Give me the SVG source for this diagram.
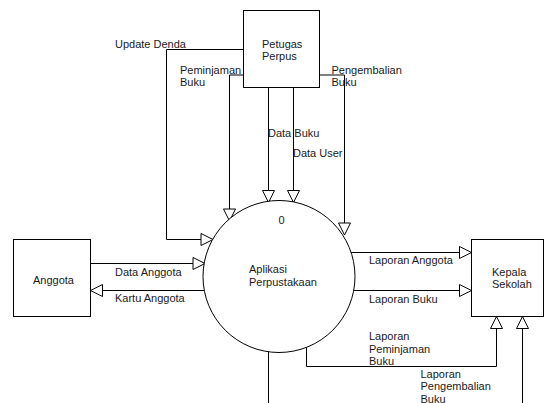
<svg xmlns="http://www.w3.org/2000/svg" width="552" height="403" viewBox="0 0 552 403">
  <style>
    .box { fill: #fff; stroke: #000; stroke-width: 1; }
    .flow { fill: none; stroke: #000; stroke-width: 1; marker-end: url(#open); }
    .line { fill: none; stroke: #000; stroke-width: 1; }
    text { font-family: "Liberation Sans", Arial, sans-serif; font-size: 11px; fill: #1a1a1a; }
  </style>
  <defs>
    <marker id="open" markerUnits="userSpaceOnUse" markerWidth="14" markerHeight="14" refX="12" refY="6" orient="auto" viewBox="-1 -1 14 14">
      <path d="M0,0 L12,6 L0,12 Z" fill="#fff" stroke="#000" stroke-width="1"/>
    </marker>
  </defs>
  <rect width="552" height="403" fill="#fff"/>

  <!-- data flows -->
  <g id="connectors">
    <path class="flow" d="M243.5,49.5 H166.5 V239.5 H213"/>
    <path class="flow" d="M243.5,75 H229.5 V221"/>
    <path class="flow" d="M268.5,87.5 V202.5"/>
    <path class="flow" d="M293.5,87.5 V202.5"/>
    <path class="flow" d="M319.5,75 H344.5 V235"/>
    <path class="flow" d="M90.5,263.5 H205"/>
    <path class="flow" d="M204.5,290.5 H90.5"/>
    <path class="flow" d="M351,252.5 H471.5"/>
    <path class="flow" d="M353.5,290.5 H471.5"/>
    <path class="flow" d="M306.5,347.5 V366.5 H496.5 V316.5"/>
    <path class="flow" d="M522.5,403 V316.5"/>
    <path class="line" d="M268.5,351.5 V403"/>
  </g>

  <g id="petugas">
    <rect class="box" x="243.5" y="10.5" width="76" height="77"/>
    <text x="262" y="47.5">Petugas</text>
    <text x="262" y="59.5">Perpus</text>
  </g>

  <g id="aplikasi">
    <circle class="box" cx="279" cy="276.5" r="76"/>
    <text x="278.5" y="224">0</text>
    <text x="249" y="273">Aplikasi</text>
    <text x="249" y="285.5">Perpustakaan</text>
  </g>

  <g id="anggota">
    <rect class="box" x="13.5" y="239.5" width="77" height="77"/>
    <text x="33" y="284">Anggota</text>
  </g>

  <g id="kepala">
    <rect class="box" x="471.5" y="239.5" width="72" height="77"/>
    <text x="492" y="275.5">Kepala</text>
    <text x="492" y="288">Sekolah</text>
  </g>

  <g id="labels">
    <text x="115" y="47.5">Update Denda</text>
    <text x="180" y="73.5">Peminjaman</text>
    <text x="180" y="85.5">Buku</text>
    <text x="331.5" y="73.5">Pengembalian</text>
    <text x="331.5" y="85.5">Buku</text>
    <text x="268" y="136.5">Data Buku</text>
    <text x="293" y="157">Data User</text>
    <text x="115" y="275.5">Data Anggota</text>
    <text x="115" y="302">Kartu Anggota</text>
    <text x="369" y="264">Laporan Anggota</text>
    <text x="369" y="302.5">Laporan Buku</text>
    <text x="369" y="340">Laporan</text>
    <text x="369" y="352.5">Peminjaman</text>
    <text x="369" y="365">Buku</text>
    <text x="420.5" y="377.5">Laporan</text>
    <text x="420.5" y="390">Pengembalian</text>
    <text x="420.5" y="402.5">Buku</text>
  </g>
</svg>
